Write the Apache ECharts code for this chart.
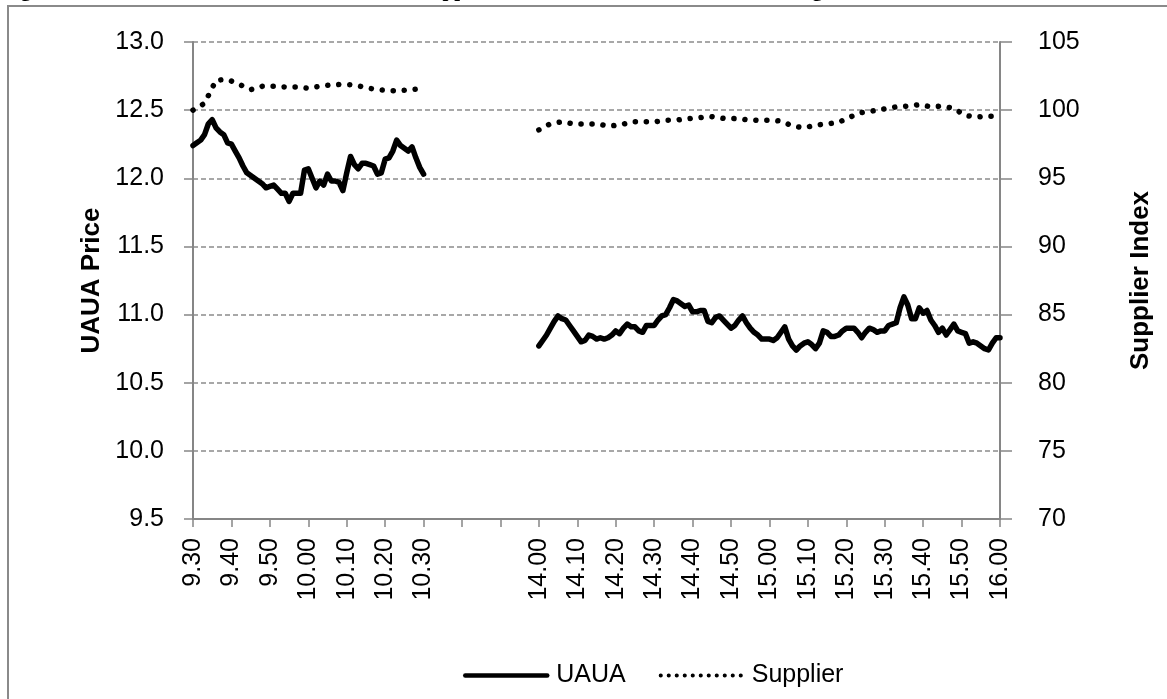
<!DOCTYPE html>
<html>
<head>
<meta charset="utf-8">
<script src="https://cdn.jsdelivr.net/npm/echarts@6/dist/echarts.min.js"></script>
<style>
  html, body { margin: 0; padding: 0; background: #fff; }
  #main { width: 1167px; height: 699px; }
</style>
</head>
<body>
<div id="main"></div>
<script>
// x axis: minutes from 9.30, one tick every 10 minutes, the gap has no label
const tickLabels = ['9.30', '9.40', '9.50', '10.00', '10.10', '10.20', '10.30', '', '',
  '14.00', '14.10', '14.20', '14.30', '14.40', '14.50', '15.00', '15.10', '15.20',
  '15.30', '15.40', '15.50', '16.00'];
const amStart = 0;   // 9.30
const pmStart = 90;  // 14.00 sits on the 10th tick

// UAUA price, one value per minute, 9.30 - 10.30
const uauaAm = [12.24, 12.26, 12.28, 12.32, 12.40, 12.43, 12.37, 12.34, 12.32, 12.26,
  12.25, 12.20, 12.15, 12.09, 12.04, 12.02, 12.00, 11.98, 11.96, 11.93,
  11.94, 11.95, 11.92, 11.89, 11.89, 11.83, 11.89, 11.89, 11.89, 12.06,
  12.07, 12.00, 11.93, 11.98, 11.95, 12.03, 11.98, 11.98, 11.97, 11.91,
  12.04, 12.16, 12.10, 12.07, 12.11, 12.11, 12.10, 12.09, 12.03, 12.04,
  12.14, 12.15, 12.20, 12.28, 12.24, 12.22, 12.20, 12.23, 12.15, 12.08,
  12.03];
// UAUA price, one value per minute, 14.00 - 16.00
const uauaPm = [10.77, 10.81, 10.85, 10.90, 10.95, 10.99, 10.97, 10.96, 10.92, 10.88,
  10.84, 10.80, 10.81, 10.85, 10.84, 10.82, 10.83, 10.82, 10.83, 10.85,
  10.88, 10.86, 10.90, 10.93, 10.91, 10.91, 10.88, 10.87, 10.92, 10.92,
  10.92, 10.96, 10.99, 11.00, 11.05, 11.11, 11.10, 11.08, 11.06, 11.07,
  11.02, 11.02, 11.03, 11.03, 10.95, 10.94, 10.98, 10.99, 10.96, 10.93,
  10.90, 10.92, 10.96, 10.99, 10.94, 10.90, 10.87, 10.85, 10.82, 10.82,
  10.82, 10.81, 10.83, 10.87, 10.91, 10.82, 10.77, 10.74, 10.77, 10.79,
  10.80, 10.78, 10.75, 10.79, 10.88, 10.87, 10.84, 10.84, 10.85, 10.88,
  10.90, 10.90, 10.90, 10.87, 10.83, 10.87, 10.90, 10.89, 10.87, 10.88,
  10.88, 10.92, 10.93, 10.94, 11.05, 11.13, 11.07, 10.97, 10.97, 11.05,
  11.01, 11.03, 10.96, 10.92, 10.87, 10.90, 10.85, 10.89, 10.93, 10.88,
  10.87, 10.86, 10.79, 10.80, 10.79, 10.77, 10.75, 10.74, 10.79, 10.83,
  10.83];

// supplier index, one value every 3 minutes
const supplierStep = 3;
const supplierAm = [100.0, 100.5, 102.2, 102.25, 101.9, 101.5, 101.75, 101.75, 101.7, 101.7,
  101.6, 101.75, 101.85, 101.9, 101.85, 101.65, 101.5, 101.43, 101.43, 101.5,
  101.6];
const supplierPm = [98.55, 99.0, 99.14, 98.99, 98.99, 98.99, 98.84, 98.89, 99.14, 99.14,
  99.14, 99.26, 99.28, 99.38, 99.45, 99.52, 99.40, 99.38, 99.30, 99.25,
  99.26, 99.20, 98.84, 98.70, 98.90, 98.99, 99.10, 99.50, 99.82, 99.95,
  100.10, 100.24, 100.30, 100.40, 100.25, 100.30, 100.12, 99.60, 99.50, 99.56,
  99.56];

function toPoints(values, start, step) {
  return values.map((v, i) => [start + i * step, v]);
}

const font = 'Liberation Sans';
const axisGrey = '#868686';

const myChart = echarts.init(document.getElementById('main'));

const uauaStyle = { color: '#000', width: 5.5, join: 'round', cap: 'round' };
const supplierStyle = { color: '#000', width: 5.5, type: [0.1, 10.9], cap: 'round' };

const option = {
  backgroundColor: '#fff',
  animation: false,
  graphic: [
    {
      type: 'rect',
      shape: { x: 8, y: 6, width: 1200, height: 720 },
      style: { fill: 'none', stroke: '#8a8a8a', lineWidth: 2 },
      silent: true
    },
    {
      // figure caption, cut off by the top of the page
      type: 'text',
      x: 2,
      y: -20,
      style: {
        text: 'Figure 5: UAUA Stock Price and the Matched Supplier Index Around the Time of the Merger Announcement',
        font: 'bold 21px "Liberation Serif"',
        fill: '#000'
      },
      silent: true
    }
  ],
  grid: { left: 193, right: 167, top: 42, bottom: 180 },
  legend: {
    left: 458,
    top: 658,
    itemWidth: 82,
    itemHeight: 14,
    itemGap: 33,
    itemStyle: { opacity: 0 },
    textStyle: { fontFamily: font, fontSize: 25, color: '#000', padding: [0, 0, 0, 4] },
    data: [
      { name: 'UAUA', lineStyle: { width: 4.5, cap: 'round' } },
      { name: 'Supplier', lineStyle: { width: 4, type: [0.1, 7.9], cap: 'round' } }
    ]
  },
  xAxis: {
    type: 'value',
    min: 0,
    max: 210,
    interval: 10,
    axisLine: { onZero: false, lineStyle: { color: axisGrey, width: 2 } },
    axisTick: { show: true, length: 8, lineStyle: { color: axisGrey, width: 1.5 } },
    splitLine: { show: false },
    axisLabel: {
      rotate: 90,
      margin: 19,
      fontFamily: font,
      fontSize: 25,
      color: '#000',
      formatter: v => tickLabels[Math.round(v / 10)] || ''
    }
  },
  yAxis: [
    {
      type: 'value',
      min: 9.5,
      max: 13,
      interval: 0.5,
      name: 'UAUA Price',
      nameLocation: 'middle',
      nameRotate: 90,
      nameGap: 60,
      nameTextStyle: { fontFamily: font, fontSize: 26, fontWeight: 'bold', color: '#000' },
      axisLine: { show: true, lineStyle: { color: axisGrey, width: 2 } },
      axisTick: { show: true, length: 9, lineStyle: { color: axisGrey, width: 1.5 } },
      axisLabel: {
        margin: 29, fontFamily: font, fontSize: 25, color: '#000',
        formatter: v => v.toFixed(1)
      },
      splitLine: { show: true, lineStyle: { color: '#8c8c8c', width: 1.5, type: [5, 3] } }
    },
    {
      type: 'value',
      min: 70,
      max: 105,
      interval: 5,
      position: 'right',
      name: 'Supplier Index',
      nameLocation: 'middle',
      nameRotate: 90,
      nameGap: 128,
      nameTextStyle: { fontFamily: font, fontSize: 26, fontWeight: 'bold', color: '#000' },
      axisLine: { show: true, lineStyle: { color: axisGrey, width: 2 } },
      axisTick: { show: true, length: 12, lineStyle: { color: axisGrey, width: 1.5 } },
      axisLabel: { margin: 38, fontFamily: font, fontSize: 25, color: '#000' },
      splitLine: { show: false }
    }
  ],
  series: [
    {
      name: 'UAUA', type: 'line', yAxisIndex: 0, symbol: 'none',
      lineStyle: uauaStyle, itemStyle: { color: '#000' },
      data: toPoints(uauaAm, amStart, 1)
    },
    {
      name: 'UAUA', type: 'line', yAxisIndex: 0, symbol: 'none',
      lineStyle: uauaStyle, itemStyle: { color: '#000' },
      data: toPoints(uauaPm, pmStart, 1)
    },
    {
      name: 'Supplier', type: 'line', yAxisIndex: 1, symbol: 'none',
      lineStyle: supplierStyle, itemStyle: { color: '#000' },
      data: toPoints(supplierAm, amStart, supplierStep)
    },
    {
      name: 'Supplier', type: 'line', yAxisIndex: 1, symbol: 'none',
      lineStyle: supplierStyle, itemStyle: { color: '#000' },
      data: toPoints(supplierPm, pmStart, supplierStep)
    }
  ]
};

myChart.setOption(option);
</script>
</body>
</html>
